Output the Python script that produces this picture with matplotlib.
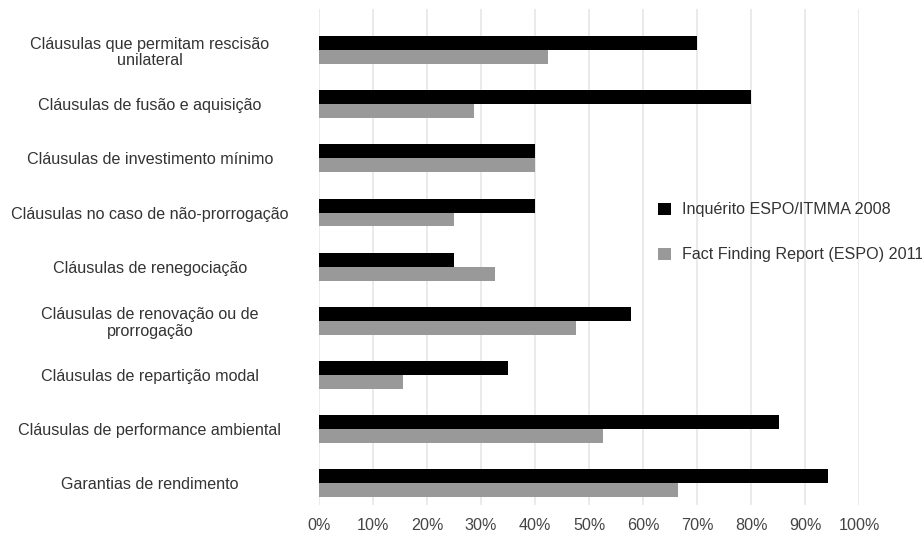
import matplotlib
matplotlib.use("Agg")
import matplotlib.pyplot as plt
import numpy as np

plt.rcParams['font.family'] = ['Liberation Sans', 'DejaVu Sans']

categories = [
    "Cláusulas que permitam rescisão\nunilateral",
    "Cláusulas de fusão e aquisição",
    "Cláusulas de investimento mínimo",
    "Cláusulas no caso de não-prorrogação",
    "Cláusulas de renegociação",
    "Cláusulas de renovação ou de\nprorrogação",
    "Cláusulas de repartição modal",
    "Cláusulas de performance ambiental",
    "Garantias de rendimento",
]
series_names = ["Inquérito ESPO/ITMMA 2008", "Fact Finding Report (ESPO) 2011"]
espo_2008 = [70.0, 80.0, 40.0, 40.0, 25.0, 57.8, 35.0, 85.2, 94.3]
ffr_2011 = [42.4, 28.7, 40.0, 25.0, 32.5, 47.6, 15.6, 52.6, 66.4]
xticks = [0, 10, 20, 30, 40, 50, 60, 70, 80, 90, 100]
xticklabels = [f"{v}%" for v in xticks]

fs = 11.6

fig = plt.figure(figsize=(9.22, 5.34), dpi=100)
ax = fig.add_axes([319/922, 1-505/534, (859-319)/922, (505-9)/534])

y = np.arange(len(categories))
h = 0.258
ax.barh(y - h/2, espo_2008, height=h, color="#000000", label=series_names[0], zorder=3)
ax.barh(y + h/2, ffr_2011, height=h, color="#999999", label=series_names[1], zorder=3)

ax.set_xlim(0, 100)
ax.set_ylim(len(categories) - 1 + 0.4, -0.757)
ax.set_xticks(xticks)
ax.set_xticklabels(xticklabels)
ax.set_yticks(y)
ax.set_yticklabels(categories)
for lab in ax.get_yticklabels():
    lab.set_horizontalalignment('center')
    lab.set_multialignment('center')
    lab.set_linespacing(1.15)
ax.tick_params(axis='y', length=0, pad=121.7, labelsize=fs, labelcolor="#333333")
ax.tick_params(axis='x', length=0, pad=9, labelsize=fs, labelcolor="#444444")
ax.grid(axis='x', color="#e6e6e6", linewidth=1.2, zorder=0)
for s in ax.spines.values():
    s.set_visible(False)

fig.legend(loc='upper left', bbox_to_anchor=(652/922, 1-196/534), frameon=False,
           handlelength=0.75, handleheight=0.75, handletextpad=0.7, labelspacing=1.85,
           fontsize=fs, labelcolor="#333333", borderaxespad=0)

fig.savefig("out.png", dpi=100, facecolor="white")
